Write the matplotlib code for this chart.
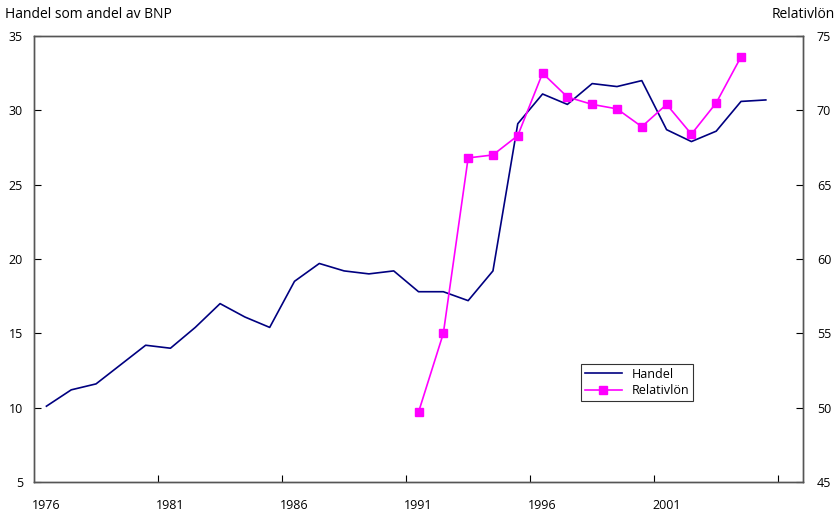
import numpy as np
import matplotlib.pyplot as plt

plt.rcParams['font.family'] = ['Open Sans', 'DejaVu Sans']

# Handel som andel av BNP (left axis), 1976-2005
handel_years = np.arange(1976, 2006)
handel = [10.1, 11.2, 11.6, 12.9, 14.2, 14.0, 15.4, 17.0, 16.1, 15.4,
          18.5, 19.7, 19.2, 19.0, 19.2, 17.8, 17.8, 17.2, 19.2, 29.1,
          31.1, 30.4, 31.8, 31.6, 32.0, 28.7, 27.9, 28.6, 30.6, 30.7]

# Relativlön (right axis), 1991-2004
rel_years = np.arange(1991, 2005)
relativlon = [49.7, 55.0, 66.8, 67.0, 68.3, 72.5, 70.9, 70.4, 70.1, 68.9,
              70.4, 68.4, 70.5, 73.6]

label_years = [1976, 1981, 1986, 1991, 1996, 2001]

fig = plt.figure(figsize=(8.4, 5.13), dpi=100)
ax = fig.add_axes([0.0405, 0.0604, 0.9155, 0.8694])
ax2 = ax.twinx()

l1, = ax.plot(handel_years, handel, color='#000080', linewidth=1.2, label='Handel')
l2, = ax2.plot(rel_years, relativlon, color='#ff00ff', linewidth=1.2, marker='s',
               markersize=6, label='Relativlön')

ax.set_xlim(1975.5, 2006.5)
ax.set_ylim(5, 35)
ax2.set_ylim(45, 75)
ax.set_yticks(np.arange(5, 36, 5))
ax2.set_yticks(np.arange(45, 76, 5))

# tick marks between categories, labels under categories
ax.set_xticks(np.arange(1980.5, 2006, 5))
ax.set_xticklabels([])
ax.set_xticks(label_years, minor=True)
ax.set_xticklabels([str(y) for y in label_years], minor=True)
ax.tick_params(axis='x', which='minor', length=0, pad=12, labelsize=9)
ax.tick_params(axis='x', which='major', direction='in', length=5)
ax.tick_params(axis='y', direction='in', length=5, labelsize=9, pad=8)
ax2.tick_params(axis='y', direction='in', length=5, labelsize=9, pad=10)

for a in (ax, ax2):
    for s in a.spines.values():
        s.set_color('#555555')
        s.set_linewidth(1.0)

fig.text(0.006, 0.972, 'Handel som andel av BNP', fontsize=10, ha='left', va='center')
fig.text(0.994, 0.972, 'Relativlön', fontsize=10, ha='right', va='center')

leg = ax.legend(handles=[l1, l2], loc='upper left', bbox_to_anchor=(0.711, 0.265),
                fontsize=9, frameon=True, fancybox=False, borderaxespad=0,
                handlelength=3, borderpad=0.3, labelspacing=0.3)
leg.get_frame().set_edgecolor('black')
leg.get_frame().set_linewidth(0.8)

fig.savefig('out.png', dpi=100)
